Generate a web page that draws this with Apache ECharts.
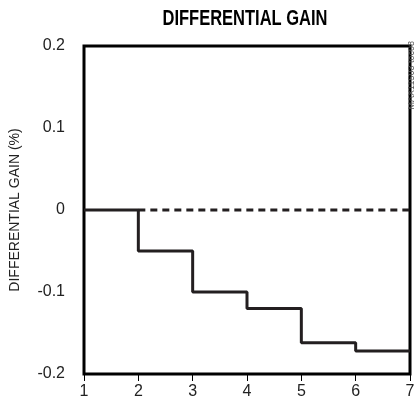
<!DOCTYPE html>
<html>
<head>
<meta charset="utf-8">
<script src="https://cdn.jsdelivr.net/npm/echarts@6/dist/echarts.min.js"></script>
<style>
html,body{margin:0;padding:0;background:#fff;}
#chart{width:420px;height:405px;}
</style>
</head>
<body>
<div id="chart"></div>
<script>
// Data
const xTicks = [1, 2, 3, 4, 5, 6, 7];
const stepStarts = [1, 2, 3, 4, 5, 6];           // start of each step (x)
const gainLevels = [0, -0.05, -0.10, -0.12, -0.162, -0.172]; // level of each step (%)
const zeroRefX = [2, 7];                          // dashed zero reference span
const yTicks = [-0.2, -0.1, 0, 0.1, 0.2];

const stepData = stepStarts.map((x, i) => [x, gainLevels[i]]);
stepData.push([xTicks[xTicks.length - 1], gainLevels[gainLevels.length - 1]]);
const zeroData = zeroRefX.map(x => [x, 0]);

const font = '"Liberation Sans", Arial, sans-serif';
const chart = echarts.init(document.getElementById('chart'));
chart.setOption({
  animation: false,
  graphic: [{
    type: 'text', x: 245, y: 19, scaleX: 0.75,
    style: {text: 'DIFFERENTIAL GAIN', fontSize: 22, fontWeight: 'bold', fontFamily: font,
      fill: '#000', textAlign: 'center', textVerticalAlign: 'middle'}
  }, {
    type: 'text', x: 412, y: 41, rotation: Math.PI / 2,
    style: {text: 'MAX11503 toc08', fontSize: 9, fontFamily: font, fill: '#555',
      textAlign: 'right', textVerticalAlign: 'middle'}
  }],
  grid: {left: 83, right: 10, top: 46, bottom: 31, show: true, borderWidth: 3, borderColor: '#000', backgroundColor: 'transparent'},
  xAxis: {
    type: 'value', min: xTicks[0], max: xTicks[xTicks.length - 1], interval: 1,
    axisLine: {show: false, onZero: false},
    axisTick: {show: true, length: 7, lineStyle: {color: '#000', width: 1}},
    axisLabel: {fontFamily: font, fontSize: 16, color: '#222', margin: 10},
    splitLine: {show: false}
  },
  yAxis: {
    type: 'value', min: yTicks[0], max: yTicks[yTicks.length - 1], interval: 0.1,
    name: 'DIFFERENTIAL GAIN (%)', nameLocation: 'middle', nameGap: 62,
    nameTextStyle: {fontFamily: font, fontSize: 14, color: '#222'},
    axisLine: {show: false}, axisTick: {show: false},
    axisLabel: {fontFamily: font, fontSize: 16, color: '#222', margin: 19,
      formatter: v => String(Math.round(v * 10) / 10)},
    splitLine: {show: false}
  },
  series: [
    {type: 'line', data: stepData, step: 'end', symbol: 'none',
     lineStyle: {color: '#231f20', width: 3}, z: 3},
    {type: 'line', data: zeroData, symbol: 'none',
     lineStyle: {color: '#231f20', width: 3, type: [7, 5]}, z: 2}
  ]
});
</script>
</body>
</html>
